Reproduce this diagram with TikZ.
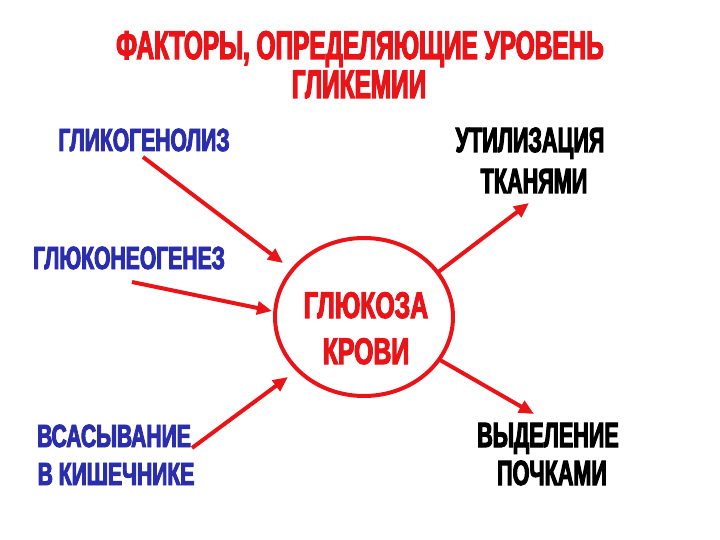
\documentclass[tikz,border=0pt]{standalone}
\usepackage{fontspec}
\usetikzlibrary{arrows.meta,shapes.geometric}
\newfontfamily\impT[FakeStretch=0.61,FakeBold=3]{Liberation Sans}
\newfontfamily\impB[FakeStretch=0.66,FakeBold=3]{Liberation Sans}
\newfontfamily\impK[FakeStretch=0.617,FakeBold=3]{Liberation Sans}
\newfontfamily\impR[FakeStretch=0.67,FakeBold=3]{Liberation Sans}
\definecolor{myred}{RGB}{232,20,24}
\definecolor{myblue}{RGB}{42,46,172}
\begin{document}
\begin{tikzpicture}[x=1pt,y=-1pt,
  lbl/.style={inner sep=0pt,anchor=base},
  ttl/.style={lbl,text=myred,font=\impT\bfseries\fontsize{40}{42}\selectfont},
  bl/.style={lbl,text=myblue,font=\impB\bfseries\fontsize{32}{34}\selectfont},
  bk/.style={lbl,text=black,font=\impK\bfseries\fontsize{35}{37}\selectfont},
  rd/.style={lbl,text=myred,font=\impR\bfseries\fontsize{37}{39}\selectfont},
  arr/.style={draw=myred,line width=4pt,-{Triangle[length=15pt,width=13pt]}}]
\useasboundingbox (0,0) rectangle (720,540);
\node[ttl] (t1) at (360,59) {ФАКТОРЫ, ОПРЕДЕЛЯЮЩИЕ УРОВЕНЬ};
\node[ttl] (t2) at (359,98) {ГЛИКЕМИИ};
\node[bl] (glg) at (144,151) {ГЛИКОГЕНОЛИЗ};
\node[bl] (gng) at (129,269) {ГЛЮКОНЕОГЕНЕЗ};
\node[bl] (vs1) at (114,447) {ВСАСЫВАНИЕ};
\node[bl] (vs2) at (116,485) {В КИШЕЧНИКЕ};
\node[bk] (ut1) at (530,152) {УТИЛИЗАЦИЯ};
\node[bk] (ut2) at (534,193) {ТКАНЯМИ};
\node[bk] (vy1) at (548,447) {ВЫДЕЛЕНИЕ};
\node[bk] (vy2) at (552,485) {ПОЧКАМИ};
\node[draw=myred,line width=4pt,ellipse,minimum width=178pt,minimum height=158pt,inner sep=0pt] (c) at (364,317) {};
\node[rd] (g1) at (366,318) {ГЛЮКОЗА};
\node[rd] (g2) at (366,364) {КРОВИ};
\coordinate (a1s) at (143,157); \coordinate (a1e) at (283,263);
\coordinate (a2s) at (132,282); \coordinate (a2e) at (272,311);
\coordinate (a3s) at (192,448); \coordinate (a3e) at (288,377);
\coordinate (a4s) at (437,273); \coordinate (a4e) at (529,203);
\coordinate (a5s) at (440,360); \coordinate (a5e) at (534,414);
\draw[arr] (a1s) -- (a1e);
\draw[arr] (a2s) -- (a2e);
\draw[arr] (a3s) -- (a3e);
\draw[arr] (a4s) -- (a4e);
\draw[arr] (a5s) -- (a5e);
\end{tikzpicture}
\end{document}
